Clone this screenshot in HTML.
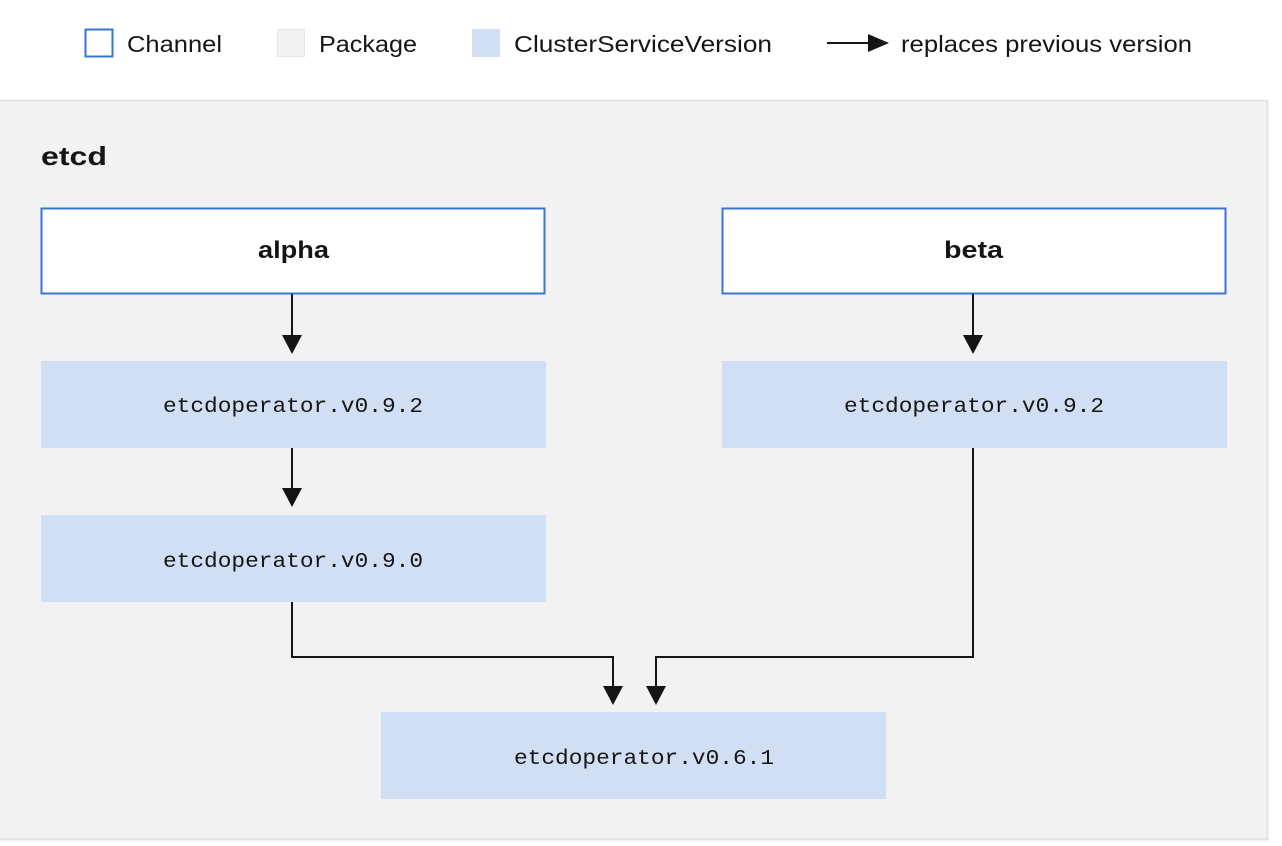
<!DOCTYPE html>
<html><head><meta charset="utf-8"><style>
html,body{margin:0;padding:0;background:#fff;width:1282px;height:846px;overflow:hidden}
svg{display:block}
.s{font-family:"Liberation Sans",sans-serif}
.m{font-family:"Liberation Mono",monospace;font-size:21.5px;fill:#151515}
</style></head><body>
<svg width="1282" height="846" viewBox="0 0 1282 846" xmlns="http://www.w3.org/2000/svg">
<!-- legend -->
<rect x="85.5" y="29.5" width="27" height="27" fill="#fff" stroke="#3a75d1" stroke-width="2"/>
<text x="127" y="52" class="s" font-size="23" fill="#151515" textLength="95" lengthAdjust="spacingAndGlyphs">Channel</text>
<rect x="277.5" y="29.5" width="27" height="27" fill="#f2f2f2" stroke="#e6e6e6" stroke-width="1"/>
<text x="319" y="52" class="s" font-size="23" fill="#151515" textLength="98" lengthAdjust="spacingAndGlyphs">Package</text>
<rect x="472" y="29" width="28" height="28" fill="#d0dff3"/>
<text x="514" y="52" class="s" font-size="23" fill="#151515" textLength="258" lengthAdjust="spacingAndGlyphs">ClusterServiceVersion</text>
<line x1="827" y1="43" x2="870" y2="43" stroke="#151515" stroke-width="2"/>
<path d="M868,34 L889,43 L868,52 Z" fill="#151515"/>
<text x="901" y="52" class="s" font-size="23" fill="#151515" textLength="291" lengthAdjust="spacingAndGlyphs">replaces previous version</text>
<!-- package -->
<rect x="-1" y="100.5" width="1268.5" height="739" fill="#f2f2f2" stroke="#e3e3e3" stroke-width="2"/>
<text x="41" y="165" class="s" font-size="26" font-weight="bold" fill="#151515" textLength="66" lengthAdjust="spacingAndGlyphs">etcd</text>
<!-- channels -->
<rect x="41.5" y="208.5" width="503" height="85" fill="#fff" stroke="#3a75d1" stroke-width="2"/>
<text x="258" y="258" class="s" font-size="24" font-weight="bold" fill="#151515" textLength="71" lengthAdjust="spacingAndGlyphs">alpha</text>
<rect x="722.5" y="208.5" width="503" height="85" fill="#fff" stroke="#3a75d1" stroke-width="2"/>
<text x="944" y="258" class="s" font-size="24" font-weight="bold" fill="#151515" textLength="59" lengthAdjust="spacingAndGlyphs">beta</text>
<!-- CSVs -->
<rect x="41" y="361" width="505" height="87" fill="#d0dff3"/>
<text x="163" y="412" class="m" textLength="260" lengthAdjust="spacingAndGlyphs">etcdoperator.v0.9.2</text>
<rect x="722" y="361" width="505" height="87" fill="#d0dff3"/>
<text x="844" y="412" class="m" textLength="260" lengthAdjust="spacingAndGlyphs">etcdoperator.v0.9.2</text>
<rect x="41" y="515" width="505" height="87" fill="#d0dff3"/>
<text x="163" y="567" class="m" textLength="260" lengthAdjust="spacingAndGlyphs">etcdoperator.v0.9.0</text>
<rect x="381" y="712" width="505" height="87" fill="#d0dff3"/>
<text x="514" y="764" class="m" textLength="260" lengthAdjust="spacingAndGlyphs">etcdoperator.v0.6.1</text>
<!-- arrows -->
<g stroke="#151515" stroke-width="2" fill="none">
<line x1="292" y1="294" x2="292" y2="337"/>
<line x1="973" y1="294" x2="973" y2="337"/>
<line x1="292" y1="448" x2="292" y2="490"/>
<polyline points="292,602 292,657 613,657 613,688"/>
<polyline points="973,448 973,657 656,657 656,688"/>
</g>
<g fill="#151515">
<path d="M282,335 L302,335 L292,354 Z"/>
<path d="M963,335 L983,335 L973,354 Z"/>
<path d="M282,488 L302,488 L292,507 Z"/>
<path d="M603,686 L623,686 L613,705 Z"/>
<path d="M646,686 L666,686 L656,705 Z"/>
</g>
</svg>
</body></html>
